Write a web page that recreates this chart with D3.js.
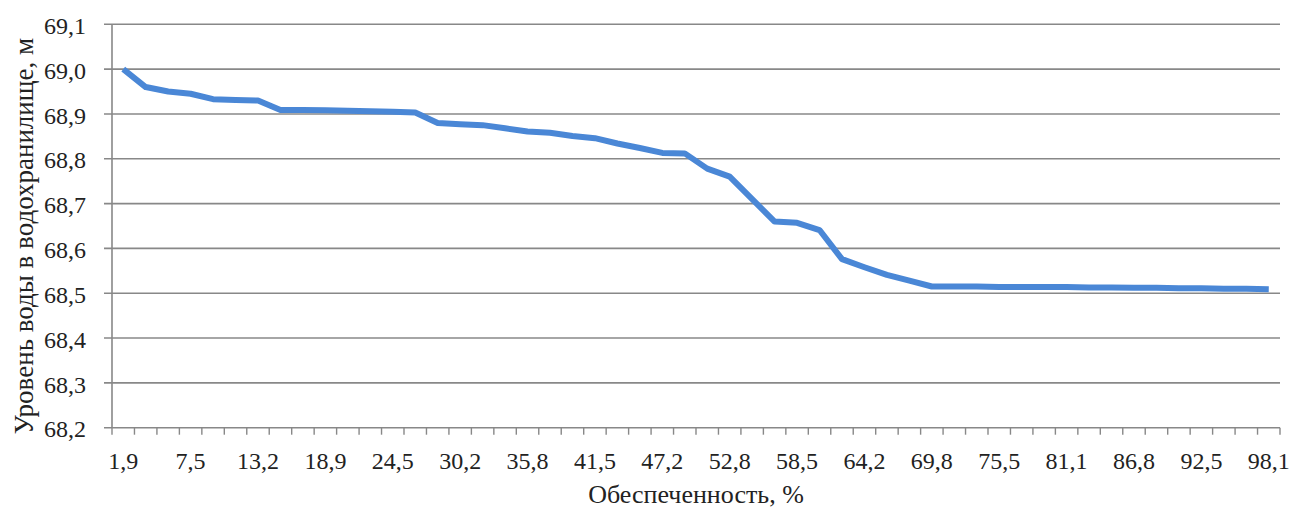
<!DOCTYPE html>
<html>
<head>
<meta charset="utf-8">
<script src="https://cdn.jsdelivr.net/npm/d3@7"></script>
<style>
  html, body { margin: 0; padding: 0; background: #ffffff; }
  svg { display: block; }
  svg text { font-family: "Times New Roman", "Liberation Serif", Tinos, "DejaVu Serif", serif !important; fill: #222222; }
</style>
</head>
<body>
<svg id="chart" width="1293" height="509"></svg>
<script>
// Обеспеченность, % (categories)
const categories = [1.9, 3.8, 5.7, 7.5, 9.4, 11.3, 13.2, 15.1, 17.0, 18.9, 20.8, 22.6, 24.5,
  26.4, 28.3, 30.2, 32.1, 34.0, 35.8, 37.7, 39.6, 41.5, 43.4, 45.3, 47.2, 49.1, 50.9,
  52.8, 54.7, 56.6, 58.5, 60.4, 62.3, 64.2, 66.0, 67.9, 69.8, 71.7, 73.6, 75.5, 77.4,
  79.2, 81.1, 83.0, 84.9, 86.8, 88.7, 90.6, 92.5, 94.3, 96.2, 98.1];
// Уровень воды, м
const levels = [69.000, 68.960, 68.950, 68.945, 68.933, 68.931, 68.930, 68.909, 68.909,
  68.908, 68.907, 68.906, 68.905, 68.903, 68.880, 68.877, 68.875, 68.868, 68.861, 68.858,
  68.851, 68.846, 68.834, 68.824, 68.813, 68.812, 68.778, 68.760, 68.710, 68.660, 68.657,
  68.641, 68.576, 68.558, 68.541, 68.528, 68.515, 68.515, 68.515, 68.514, 68.514, 68.514,
  68.514, 68.513, 68.513, 68.512, 68.512, 68.511, 68.511, 68.510, 68.510, 68.509];
const yTicks = [68.2, 68.3, 68.4, 68.5, 68.6, 68.7, 68.8, 68.9, 69.0, 69.1];
const xLabelEvery = 3;
const xTitle = "Обеспеченность, %";
const yTitle = "Уровень воды в водохранилище, м";

(function () {
const svg = d3.select("#chart");
const pl = 112, pr = 1280, pt = 24.3, pb = 427.7;
const fmt = v => d3.format(".1f")(v).replace(".", ",");
const FONT = "'Times New Roman', 'Liberation Serif', Tinos, 'DejaVu Serif', serif";

const x = d3.scaleBand().domain(d3.range(categories.length)).range([pl, pr]).padding(0);
const y = d3.scaleLinear().domain([68.2, 69.1]).range([pb, pt]);

// horizontal gridlines (incl. left tick stubs)
svg.append("g").selectAll("line").data(yTicks).join("line")
  .attr("x1", pl - 8).attr("x2", pr)
  .attr("y1", d => y(d)).attr("y2", d => y(d))
  .attr("stroke", "#888888").attr("stroke-width", 1.6);

// y axis line
svg.append("line").attr("x1", pl).attr("x2", pl).attr("y1", pt).attr("y2", pb)
  .attr("stroke", "#888888").attr("stroke-width", 1.6);

// y tick labels
const yAxis = d3.axisLeft(y).tickValues(yTicks).tickFormat(fmt).tickSize(0).tickPadding(0);
const gy = svg.append("g").attr("transform", `translate(${pl - 26},0)`).call(yAxis)
  .attr("font-family", FONT).attr("font-size", 24);
gy.select(".domain").remove();
gy.selectAll("text").attr("dy", "0.38em").attr("fill", "#222222");

// x axis
const xAxis = d3.axisBottom(x)
  .tickValues(d3.range(0, categories.length, xLabelEvery))
  .tickFormat(i => fmt(categories[i])).tickSize(0).tickPadding(0);
const gx = svg.append("g").attr("transform", `translate(0,${pb})`).call(xAxis)
  .attr("font-family", FONT).attr("font-size", 24);
gx.select(".domain").remove();
gx.selectAll("text").attr("dy", null).attr("y", 41).attr("fill", "#222222");

// boundary tick marks on the x axis
const bounds = d3.range(categories.length + 1).map(i => pl + i * x.step());
svg.append("g").selectAll("line").data(bounds).join("line")
  .attr("x1", d => d).attr("x2", d => d)
  .attr("y1", pb).attr("y2", pb + 7)
  .attr("stroke", "#888888").attr("stroke-width", 1.4);

// data line
const line = d3.line()
  .x((d, i) => x(i) + x.bandwidth() / 2)
  .y(d => y(d));
svg.append("path").datum(levels)
  .attr("d", line)
  .attr("fill", "none")
  .attr("stroke", "#4a87d6")
  .attr("stroke-width", 6)
  .attr("stroke-linejoin", "round");

// titles
svg.append("text").attr("x", 696).attr("y", 503).attr("text-anchor", "middle")
  .attr("font-family", FONT).attr("font-size", 26).text(xTitle);
svg.append("text").attr("transform", "translate(33,236) rotate(-90)")
  .attr("text-anchor", "middle").attr("font-family", FONT).attr("font-size", 27).text(yTitle);
})();
</script>
</body>
</html>
